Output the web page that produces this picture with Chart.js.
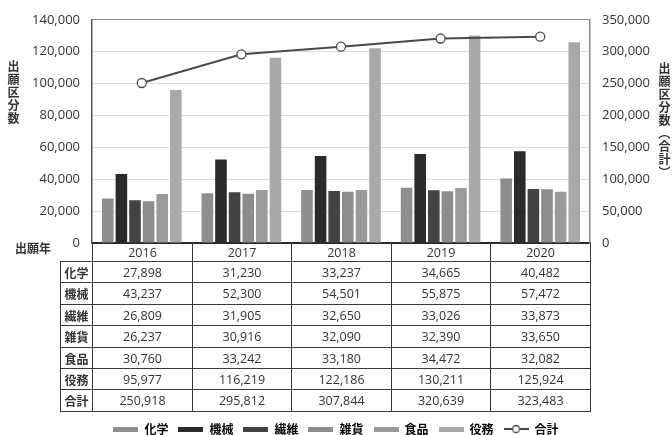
<!DOCTYPE html>
<html>
<head>
<meta charset="utf-8">
<script src="https://cdn.jsdelivr.net/npm/chart.js@4/dist/chart.umd.min.js"></script>
<style>
  html, body { margin: 0; padding: 0; background: #fff; }
  #wrap { position: relative; width: 672px; height: 435px; overflow: hidden; }
  #chart { position: absolute; left: 0; top: 0; }
  .vtitle { position: absolute; writing-mode: vertical-rl; font: bold 12px 'Noto Sans CJK JP', sans-serif; color: #333; line-height: 12px; letter-spacing: 1px; }
  .cell { position: absolute; box-sizing: border-box; border: 1px solid #3a3a3a; font: 12.5px 'Open Sans', 'Noto Sans CJK JP', sans-serif; color: #333; display: flex; align-items: center; justify-content: center; }
  .cell.head { border-top: none; }
  .cell.lbl { font: bold 12px 'Noto Sans CJK JP', sans-serif; }
  #yearLbl { position: absolute; left: 15px; top: 239px; font: bold 12px 'Noto Sans CJK JP', sans-serif; color: #333; }
</style>
</head>
<body>
<div id="wrap">
  <canvas id="chart" width="672" height="435"></canvas>
  <div class="vtitle" style="left:7px; top:60px;">出願区分数</div>
  <div class="vtitle" style="left:658px; top:62px;">出願区分数（合計）</div>
  <div id="yearLbl">出願年</div>
  <div id="table"></div>
</div>
<script>
// 出願区分数 by year
const years = ['2016', '2017', '2018', '2019', '2020'];
const seriesNames = ['化学', '機械', '繊維', '雑貨', '食品', '役務'];
const chemistry = [27898, 31230, 33237, 34665, 40482];
const machinery = [43237, 52300, 54501, 55875, 57472];
const textiles = [26809, 31905, 32650, 33026, 33873];
const sundries = [26237, 30916, 32090, 32390, 33650];
const foods = [30760, 33242, 33180, 34472, 32082];
const services = [95977, 116219, 122186, 130211, 125924];
const totals = [250918, 295812, 307844, 320639, 323483];
const totalName = '合計';

const seriesValues = [chemistry, machinery, textiles, sundries, foods, services];
const barColors = ['#8e8e8e', '#2a2a2a', '#434343', '#8c8c8c', '#9b9b9b', '#a9a9a9'];
const lineColor = '#4a4a4a';

function fmt(v) {
    return Number(v).toLocaleString('en-US');
}

function swatch(color) {
    const c = document.createElement('canvas');
    c.width = 25; c.height = 5;
    const g = c.getContext('2d');
    g.fillStyle = color;
    g.fillRect(0, 0, 25, 5);
    return c;
}

function lineSwatch() {
    const c = document.createElement('canvas');
    c.width = 25; c.height = 10;
    const g = c.getContext('2d');
    g.strokeStyle = lineColor;
    g.lineWidth = 2;
    g.beginPath(); g.moveTo(0, 5); g.lineTo(25, 5); g.stroke();
    g.fillStyle = '#fff';
    g.lineWidth = 1.3;
    g.beginPath(); g.arc(12.5, 5, 3.5, 0, Math.PI * 2); g.fill(); g.stroke();
    return c;
}

const datasets = seriesNames.map((name, i) => ({
    type: 'bar',
    label: name,
    data: seriesValues[i],
    backgroundColor: barColors[i],
    yAxisID: 'y',
    order: 1,
    categoryPercentage: 0.82,
    barPercentage: 0.85,
}));
datasets.push({
    type: 'line',
    label: totalName,
    data: totals,
    yAxisID: 'y1',
    order: 0,
    borderColor: lineColor,
    borderWidth: 2,
    pointRadius: 4.5,
    pointBackgroundColor: '#fff',
    pointBorderColor: lineColor,
    pointBorderWidth: 1.3,
    tension: 0,
});

const AREA_BOTTOM = 243;
const PAD_BOTTOM = -10;

const chart = new Chart(document.getElementById('chart'), {
    data: { labels: years, datasets },
    options: {
        responsive: false,
        animation: false,
        layout: { padding: { top: 14, left: 0, right: 0, bottom: PAD_BOTTOM } },
        plugins: {
            tooltip: { enabled: false },
            legend: {
                position: 'bottom',
                labels: {
                    usePointStyle: true,
                    pointStyleWidth: 25,
                    padding: 10,
                    color: '#333',
                    font: { family: "'Noto Sans CJK JP', sans-serif", size: 12, weight: 'bold' },
                    generateLabels: (ch) => ch.data.datasets.map((ds, i) => ({
                        text: ds.label,
                        pointStyle: ds.type === 'line' ? lineSwatch() : swatch(ds.backgroundColor),
                        fillStyle: ds.backgroundColor || '#fff',
                        strokeStyle: 'transparent',
                        lineWidth: 0,
                        hidden: false,
                        datasetIndex: i,
                    })),
                },
            },
        },
        scales: {
            x: {
                offset: true,
                grid: { display: false },
                border: { display: true, color: '#2a2a2a', width: 2 },
                ticks: { display: false },
                afterFit: (scale) => {
                    const lg = scale.chart.legend;
                    scale.height = scale.chart.height - PAD_BOTTOM - (lg ? lg.height : 0) - AREA_BOTTOM;
                },
            },
            y: {
                position: 'left',
                min: 0, max: 140000,
                ticks: {
                    stepSize: 20000,
                    padding: 12,
                    color: '#333',
                    font: { family: "'Open Sans', sans-serif", size: 13 },
                    callback: (v) => fmt(v),
                },
                grid: {
                    drawTicks: false,
                    color: (ctx) => ctx.tick && ctx.tick.value === 140000 ? '#8a8a8a' : '#dddddd',
                },
                border: { display: true, color: '#555', width: 1.5 },
                afterFit: (scale) => { scale.width = 92; },
            },
            y1: {
                position: 'right',
                min: 0, max: 350000,
                ticks: {
                    stepSize: 50000,
                    padding: 12,
                    color: '#333',
                    font: { family: "'Open Sans', sans-serif", size: 13 },
                    callback: (v) => fmt(v),
                },
                grid: { display: false, drawTicks: false },
                border: { display: true, color: '#8a8a8a', width: 1.5 },
                afterFit: (scale) => { scale.width = 82; },
            },
        },
    },
});

// data table under the plot, aligned with the x scale
function buildTable(ch) {
    const host = document.getElementById('table');
    host.innerHTML = '';
    const area = ch.chartArea;
    const step = (area.right - area.left) / years.length;
    const top = area.bottom;
    const headH = 18;
    const rowH = 21.4;
    const labelLeft = 60;

    const add = (cls, text, x0, y0, x1, y1) => {
        const d = document.createElement('div');
        d.className = 'cell ' + cls;
        d.textContent = text;
        d.style.left = Math.round(x0) + 'px';
        d.style.top = Math.round(y0) + 'px';
        d.style.width = (Math.round(x1) - Math.round(x0) + 1) + 'px';
        d.style.height = (Math.round(y1) - Math.round(y0) + 1) + 'px';
        host.appendChild(d);
    };

    years.forEach((yr, c) => {
        const x0 = area.left + c * step;
        add('head', yr, x0, top, x0 + step, top + headH);
    });
    const rows = seriesNames.map((n, i) => [n, seriesValues[i]]).concat([[totalName, totals]]);
    rows.forEach(([name, vals], r) => {
        const y0 = top + headH + r * rowH;
        add('lbl', name, labelLeft, y0, area.left, y0 + rowH);
        vals.forEach((v, c) => {
            const x0 = area.left + c * step;
            add('', fmt(v), x0, y0, x0 + step, y0 + rowH);
        });
    });
}
buildTable(chart);
</script>
</body>
</html>
